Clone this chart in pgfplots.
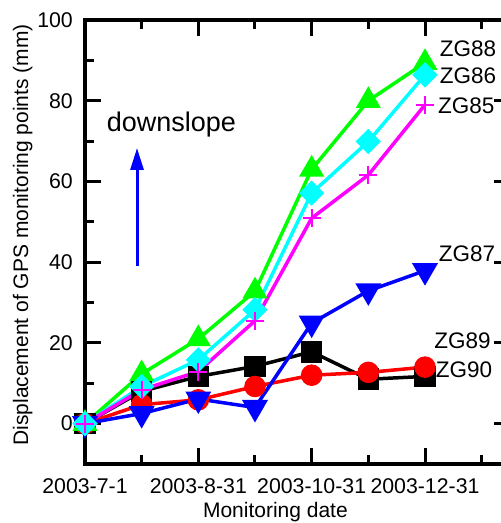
\documentclass[border=0pt]{standalone}
\usepackage{pgfplots}
\pgfplotsset{compat=1.18}
\usepackage{fontspec}
\setmainfont{Liberation Sans}
\usetikzlibrary{arrows.meta}
\definecolor{cgreen}{RGB}{0,255,0}
\definecolor{ccyan}{RGB}{0,255,255}
\definecolor{cmag}{RGB}{255,0,255}
\definecolor{cblue}{RGB}{0,0,255}
\definecolor{cred}{RGB}{255,0,0}
\begin{document}
\begin{tikzpicture}
\begin{axis}[
  at={(0pt,0pt)}, anchor=south west,
  scale only axis, width=425pt, height=444pt,
  xmin=0, xmax=7.5, ymin=-10, ymax=100,
  clip=false,
  axis line style={line width=4pt},
  xtick={0,2,4,6},
  xticklabels={2003-7-1,2003-8-31,2003-10-31,2003-12-31},
  minor xtick={1,3,5,7},
  ytick={0,20,40,60,80,100},
  minor ytick={-10,10,30,50,70,90},
  tick align=inside,
  major tick length=16pt, minor tick length=9pt,
  every tick/.style={line width=3pt, black},
  /pgf/number format/assume math mode=true,
  tick label style={font=\fontsize{21.3}{25}\selectfont},
  yticklabel style={inner sep=0pt, xshift=-12pt},
  xticklabel style={inner sep=0pt, yshift=-14pt},
  xlabel={Monitoring date},
  ylabel={Displacement of GPS monitoring points (mm)},
  every axis x label/.style={at={(axis description cs:0.448,-0.1216)}, anchor=base, inner sep=0pt, font=\fontsize{21}{25}\selectfont},
  every axis y label/.style={at={(axis description cs:-0.134,0.516)}, rotate=90, anchor=base, inner sep=0pt, font=\fontsize{21}{25}\selectfont},
]
\addplot[black, line width=3.5pt, mark=square*, mark size=9pt, mark options={solid}]
  coordinates {(0,0) (1,8) (2,11.7) (3,14.2) (4,17.8) (5,11) (6,11.7)};
\addplot[cred, line width=3.5pt, mark=*, mark size=9pt]
  coordinates {(0,0) (1,4.7) (2,5.9) (3,9.2) (4,12) (5,12.7) (6,14)};
\addplot[cblue, line width=3.5pt, mark=triangle*, mark size=11.5pt, mark options={rotate=180}]
  coordinates {(0,0) (1,2.5) (2,6.1) (3,4.0) (4,24.9) (5,32.9) (6,37.9)};
\addplot[cgreen, line width=3.5pt, mark=triangle*, mark size=11pt]
  coordinates {(0,0) (1,12.3) (2,21) (3,32.8) (4,63) (5,80) (6,89.4)};
\addplot[ccyan, line width=3.5pt, mark=square*, mark size=7.2pt, mark options={rotate=45}]
  coordinates {(0,0) (1,9.2) (2,15.8) (3,28.2) (4,57.1) (5,69.9) (6,86.4)};
\addplot[cmag, line width=3.5pt, mark=+, mark size=9pt, mark options={line width=2pt}]
  coordinates {(0,0) (1,8.4) (2,12.9) (3,25.5) (4,50.9) (5,61.6) (6,79)};

\draw[cblue, line width=3pt, -{Triangle[length=22pt,width=13pt]}] (axis cs:0.918,39.1) -- (axis cs:0.918,68.3);
\node[anchor=base, inner sep=0pt, font=\fontsize{27}{32}\selectfont] at (axis cs:1.526,72.3) {downslope};

\begin{scope}[every node/.style={anchor=west, inner sep=0pt, font=\fontsize{22.5}{27}\selectfont}]
\node at (axis cs:6.26,92.8) {ZG88};
\node at (axis cs:6.26,86.1) {ZG86};
\node at (axis cs:6.23,78.7) {ZG85};
\node at (axis cs:6.24,42.1) {ZG87};
\node at (axis cs:6.16,20.5) {ZG89};
\node at (axis cs:6.19,13.4) {ZG90};
\end{scope}
\end{axis}
\pgfresetboundingbox
\path[use as bounding box] (-85pt,-59pt) rectangle (416pt,464pt);
\end{tikzpicture}
\end{document}
